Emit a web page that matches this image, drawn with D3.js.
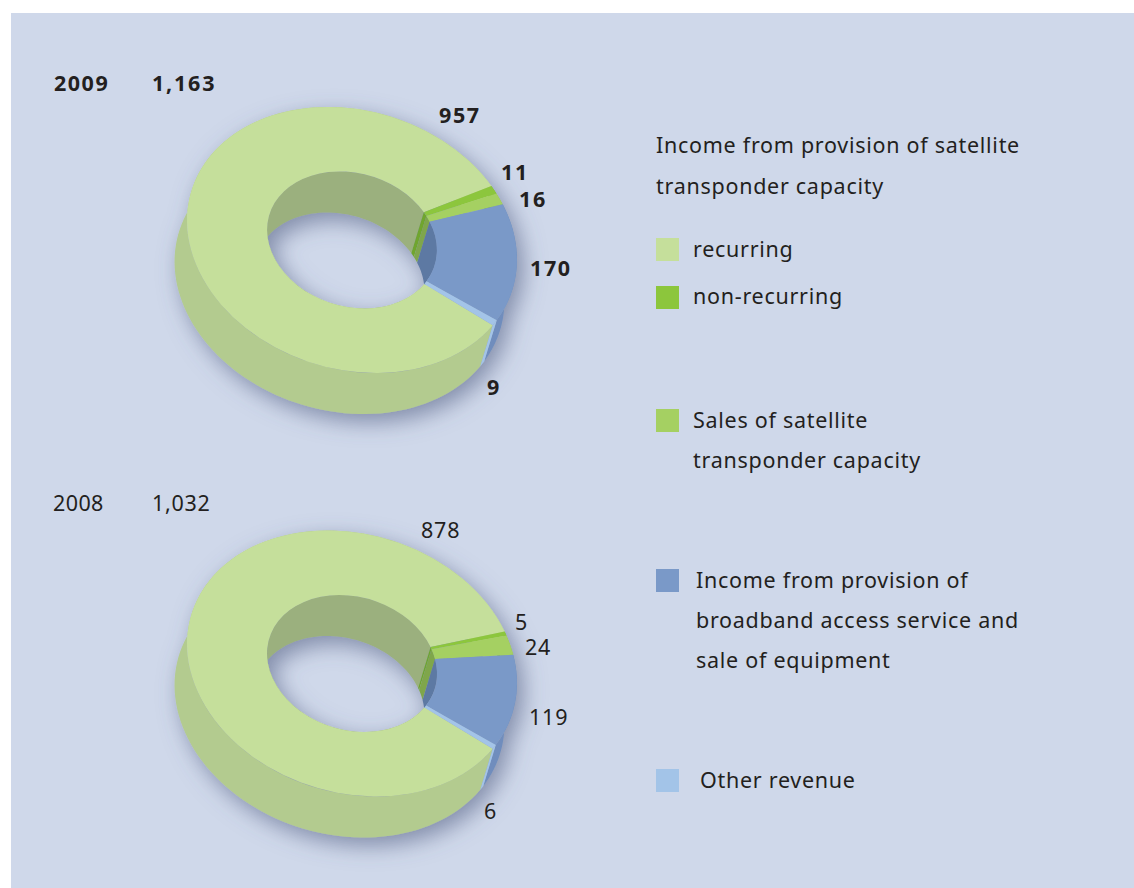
<!DOCTYPE html>
<html>
<head>
<meta charset="utf-8">
<script src="https://cdn.jsdelivr.net/npm/d3@7"></script>
<style>
  html, body { margin: 0; padding: 0; background: #fff; }
  svg { display: block; }
  text { font-family: "Noto Sans", Lato, sans-serif; fill: #231f20; }
</style>
</head>
<body>
<svg id="chart" width="1134" height="888"></svg>
<script>
// Revenue breakdown, in millions, by category
const categories = ["recurring", "non-recurring", "sales", "broadband", "other"];
const values2009 = [957, 11, 16, 170, 9];
const values2008 = [878, 5, 24, 119, 6];
const totalLabels = ["1,163", "1,032"];
const years = ["2009", "2008"];

// Fill per category: top face, outer wall, inner wall
const topColors   = ["#c5df9b", "#8cc63c", "#a5d062", "#7a99c8", "#a3c4e8"];
const outerColors = ["#b3cb8f", "#7fb23a", "#96bd5a", "#6f8dbd", "#a3c4e8"];
const innerColors = ["#9bb07e", "#6fa52f", "#7fa64c", "#5d79a3", "#7d9cc0"];

const legendColors = ["#c5df9b", "#8cc63c", "#a5d062", "#7a99c8", "#a3c4e8"];
const legendLines = [
  ["recurring"],
  ["non-recurring"],
  ["Sales of satellite", "transponder capacity"],
  ["Income from provision of", "broadband access service and", "sale of equipment"],
  ["Other revenue"]
];
const legendHeading = ["Income from provision of satellite", "transponder capacity"];

// Placement of the page furniture
const legendSwatchY = [238, 286, 409, 569, 769];
const legendTextX = [693, 693, 693, 696, 700];
const legendTextY = [257, 304, 428, 588, 788];
const legendLeading = 40;
const labelSpots2009 = [[439, 123], [501, 180], [519, 207], [530, 276], [487, 395]];
const labelSpots2008 = [[421, 538], [515, 630], [525, 655], [529, 725], [484, 819]];

const svg = d3.select("#chart");
const defs = svg.append("defs");

// Soft shadow cast by each ring on the panel
const shadow = defs.append("filter").attr("id", "ringShadow")
  .attr("x", "-20%").attr("y", "-20%").attr("width", "140%").attr("height", "140%");
shadow.append("feDropShadow")
  .attr("dx", 6).attr("dy", 8).attr("stdDeviation", 11)
  .attr("flood-color", "#4f5a80").attr("flood-opacity", 0.6);

svg.append("rect").attr("x", 11).attr("y", 13)
  .attr("width", 1123).attr("height", 875).attr("fill", "#cfd8ea");

// Ring projection: a flat ring squashed and tilted, extruded along a fixed vector
const semiMajor = 167.9, semiMinor = 129.3, tiltDeg = 17, holeRatio = 0.515;
const depthX = -12.5, depthY = 41;
const startDeg = 18.2 + 90;   // recurring starts just below the right-hand tip

const tilt = tiltDeg * Math.PI / 180;
const project = (angle, radius) => {
  // d3 angles run clockwise from 12 o'clock
  const u = semiMajor * radius * Math.sin(angle);
  const v = -semiMinor * radius * Math.cos(angle);
  return [u * Math.cos(tilt) - v * Math.sin(tilt), u * Math.sin(tilt) + v * Math.cos(tilt)];
};

const pie = d3.pie().sort(null)
  .startAngle(startDeg * Math.PI / 180)
  .endAngle((startDeg + 360) * Math.PI / 180);
const faceArc = d3.arc().innerRadius(holeRatio).outerRadius(1);

// Wall strip following one slice's edge, down to the extruded copy of that edge
function wallPath(slice, radius) {
  const steps = d3.range(0, 1.0001, 1 / 120).map(t =>
    project(slice.startAngle + t * (slice.endAngle - slice.startAngle), radius));
  const lower = steps.slice().reverse().map(p => [p[0] + depthX, p[1] + depthY]);
  return d3.line()(steps.concat(lower)) + "Z";
}

function drawRing(values, cx, cy) {
  const slices = pie(values);
  const ring = svg.append("g")
    .attr("transform", `translate(${cx},${cy})`)
    .attr("filter", "url(#ringShadow)");

  ring.append("g").selectAll("path").data(slices).join("path")
    .attr("d", d => wallPath(d, 1))
    .attr("fill", (d, i) => outerColors[i]);

  ring.append("g").selectAll("path").data(slices).join("path")
    .attr("d", d => wallPath(d, holeRatio))
    .attr("fill", (d, i) => innerColors[i]);

  ring.append("g")
    .attr("transform", `rotate(${tiltDeg}) scale(${semiMajor},${semiMinor})`)
    .selectAll("path").data(slices).join("path")
    .attr("d", faceArc)
    .attr("fill", (d, i) => topColors[i]);
}

drawRing(values2009, 352, 240);
drawRing(values2008, 352, 663.5);

const fontSize = 21.5;

function label(x, y, str, bold, spacing) {
  svg.append("text").attr("x", x).attr("y", y)
    .attr("font-size", fontSize)
    .attr("font-weight", bold ? 700 : 400)
    .attr("letter-spacing", spacing)
    .text(str);
}

label(54, 91, years[0], true, 1.5);
label(152, 91, totalLabels[0], true, 1.8);
label(53, 511, years[1], false, 0.4);
label(152, 511, totalLabels[1], false, 0.7);

values2009.forEach((v, i) => label(labelSpots2009[i][0], labelSpots2009[i][1], v, true, 1.6));
values2008.forEach((v, i) => label(labelSpots2008[i][0], labelSpots2008[i][1], v, false, 0.8));

// Legend
const textSpacing = 0.72;
legendHeading.forEach((line, i) => label(656, 153 + i * 41, line, false, textSpacing));
categories.forEach((c, i) => {
  svg.append("rect").attr("x", 656).attr("y", legendSwatchY[i])
    .attr("width", 23).attr("height", 23).attr("fill", legendColors[i]);
  legendLines[i].forEach((line, j) =>
    label(legendTextX[i], legendTextY[i] + j * legendLeading, line, false, textSpacing));
});
</script>
</body>
</html>
